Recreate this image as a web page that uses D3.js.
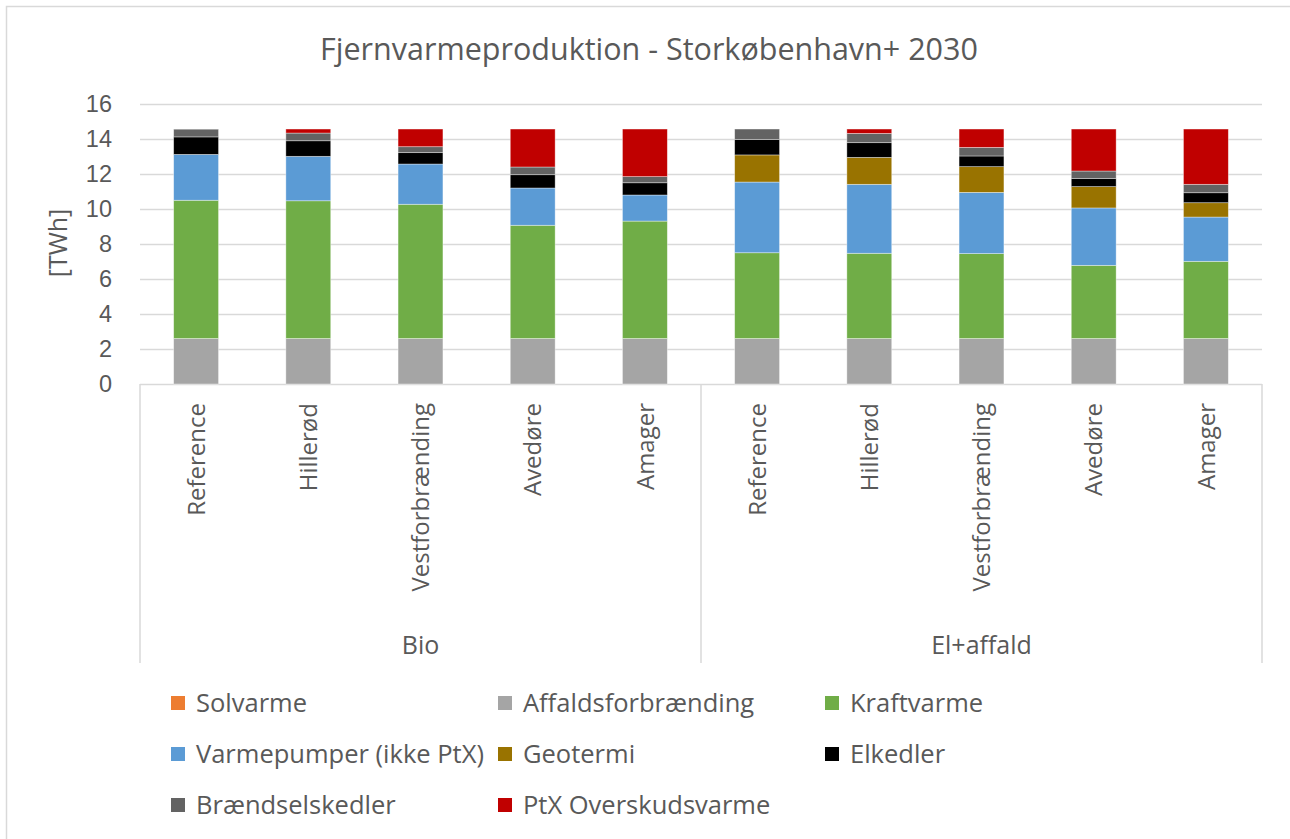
<!DOCTYPE html>
<html>
<head>
<meta charset="utf-8">
<script src="https://cdn.jsdelivr.net/npm/d3@7"></script>
<style>
  html, body { margin: 0; padding: 0; background: #fff; }
  svg { display: block; font-family: "Open Sans", "Noto Sans", sans-serif; }
</style>
</head>
<body>
<svg id="chart" width="1290" height="839"></svg>
<script>
// District heating production by source, TWh
const groups = ["Bio", "El+affald"];
const scenarios = ["Reference", "Hillerød", "Vestforbrænding", "Avedøre", "Amager"];
const seriesNames = ["Solvarme", "Affaldsforbrænding", "Kraftvarme", "Varmepumper (ikke PtX)",
                     "Geotermi", "Elkedler", "Brændselskedler", "PtX Overskudsvarme"];
const seriesColors = ["#ED7D31", "#A5A5A5", "#70AD47", "#5B9BD5",
                      "#997300", "#000000", "#636363", "#C00000"];

// one array per source, ordered Bio x 5 scenarios, then El+affald x 5 scenarios
const solvarme        = [0, 0, 0, 0, 0, 0, 0, 0, 0, 0];
const affald          = [2.6, 2.6, 2.6, 2.6, 2.6, 2.6, 2.6, 2.6, 2.6, 2.6];
const kraftvarme      = [7.9, 7.87, 7.67, 6.47, 6.71, 4.9, 4.87, 4.85, 4.18, 4.41];
const varmepumper     = [2.62, 2.54, 2.3, 2.13, 1.49, 4.04, 3.94, 3.5, 3.28, 2.53];
const geotermi        = [0, 0, 0, 0, 0, 1.55, 1.54, 1.47, 1.22, 0.82];
const elkedler        = [1.0, 0.89, 0.65, 0.76, 0.7, 0.89, 0.84, 0.61, 0.47, 0.57];
const braendsel       = [0.44, 0.44, 0.34, 0.44, 0.35, 0.59, 0.53, 0.49, 0.42, 0.48];
const ptx             = [0, 0.23, 1.01, 2.17, 2.72, 0, 0.25, 1.05, 2.4, 3.16];

const yTicks = [0, 2, 4, 6, 8, 10, 12, 14, 16];
const title = "Fjernvarmeproduktion - Storkøbenhavn+ 2030";
const yTitle = "[TWh]";

const seriesValues = [solvarme, affald, kraftvarme, varmepumper, geotermi, elkedler, braendsel, ptx];

// table for the stack layout
const rows = [];
groups.forEach((g, gi) => scenarios.forEach((s, si) => {
  const idx = gi * scenarios.length + si;
  const row = { key: g + "|" + s, group: g, scenario: s };
  seriesNames.forEach((n, k) => row[n] = seriesValues[k][idx]);
  rows.push(row);
}));

const svg = d3.select("#chart");
const textColor = "#595959";
const lineColor = "#D9D9D9";

const plot = { left: 140, right: 1262, top: 104, bottom: 384 };

// chart area border
svg.append("rect")
  .attr("x", 6.5).attr("y", 6.5).attr("width", 1300).attr("height", 850)
  .attr("fill", "none").attr("stroke", lineColor).attr("stroke-width", 1.5);

const x = d3.scaleBand()
  .domain(rows.map(r => r.key))
  .range([plot.left, plot.right])
  .paddingInner(0.6)
  .paddingOuter(0.3);

const y = d3.scaleLinear().domain([0, 16]).range([plot.bottom, plot.top]);

// title
svg.append("text")
  .attr("x", 649).attr("y", 60)
  .attr("text-anchor", "middle")
  .attr("fill", textColor)
  .style("font-size", "30.5px")
  .text(title);

// gridlines and y axis
const yAxis = d3.axisLeft(y).tickValues(yTicks).tickSize(-(plot.right - plot.left)).tickPadding(28);
const yg = svg.append("g").attr("transform", `translate(${plot.left},0)`).call(yAxis);
yg.select(".domain").remove();
yg.selectAll(".tick line").attr("stroke", lineColor).attr("stroke-width", 1.5);
yg.selectAll(".tick text").attr("fill", textColor).style("font-size", "23.5px").attr("font-family", null);

svg.append("text")
  .attr("transform", `translate(58,243) rotate(-90)`)
  .attr("text-anchor", "middle")
  .attr("dy", "0.35em")
  .attr("fill", textColor)
  .style("font-size", "25px")
  .text(yTitle);

// stacked bars
const stack = d3.stack().keys(seriesNames);
const layers = stack(rows);
svg.append("g").selectAll("g")
  .data(layers)
  .join("g")
  .attr("fill", (d, i) => seriesColors[i])
  .selectAll("rect")
  .data(d => d.filter(p => p[1] - p[0] > 0))
  .join("rect")
  .attr("x", d => x(d.data.key))
  .attr("width", x.bandwidth())
  .attr("y", d => y(d[1]))
  .attr("height", d => y(d[0]) - y(d[1]))
  .attr("stroke", "#ffffff")
  .attr("stroke-opacity", 0.5)
  .attr("stroke-width", 0.75);

// category axis: group edges lie halfway between neighbouring bands
const axisBottom = 663;
const groupEdges = [plot.left];
groups.forEach((g, gi) => {
  const keys = rows.filter(r => r.group === g).map(r => r.key);
  const last = keys[keys.length - 1];
  groupEdges.push(gi === groups.length - 1 ? plot.right
    : x(last) + x.bandwidth() + (x.step() - x.bandwidth()) / 2);
});
svg.append("g").selectAll("line")
  .data(groupEdges)
  .join("line")
  .attr("x1", d => d).attr("x2", d => d)
  .attr("y1", plot.bottom).attr("y2", axisBottom)
  .attr("stroke", lineColor).attr("stroke-width", 1.5);

// scenario labels (rotated)
svg.append("g").selectAll("text")
  .data(rows)
  .join("text")
  .attr("transform", d => `translate(${x(d.key) + x.bandwidth() / 2},403) rotate(-90)`)
  .attr("text-anchor", "end")
  .attr("dy", "0.36em")
  .attr("fill", textColor)
  .style("font-size", "24px")
  .text(d => d.scenario);

// group labels
svg.append("g").selectAll("text")
  .data(groups)
  .join("text")
  .attr("x", (g, gi) => (groupEdges[gi] + groupEdges[gi + 1]) / 2)
  .attr("y", 645)
  .attr("dy", "0.36em")
  .attr("text-anchor", "middle")
  .attr("fill", textColor)
  .style("font-size", "25px")
  .text(g => g);

// legend, three columns
const legendCols = [171, 498, 825];
const legendRows = [703, 754, 805];
const lg = svg.append("g").selectAll("g")
  .data(seriesNames)
  .join("g")
  .attr("transform", (d, i) => `translate(${legendCols[i % 3]},${legendRows[Math.floor(i / 3)]})`);
lg.append("rect")
  .attr("x", 0).attr("y", -7).attr("width", 14).attr("height", 14)
  .attr("fill", (d, i) => seriesColors[i]);
lg.append("text")
  .attr("x", 25).attr("dy", "0.36em")
  .attr("fill", textColor)
  .style("font-size", "25.5px")
  .text(d => d);
</script>
</body>
</html>
